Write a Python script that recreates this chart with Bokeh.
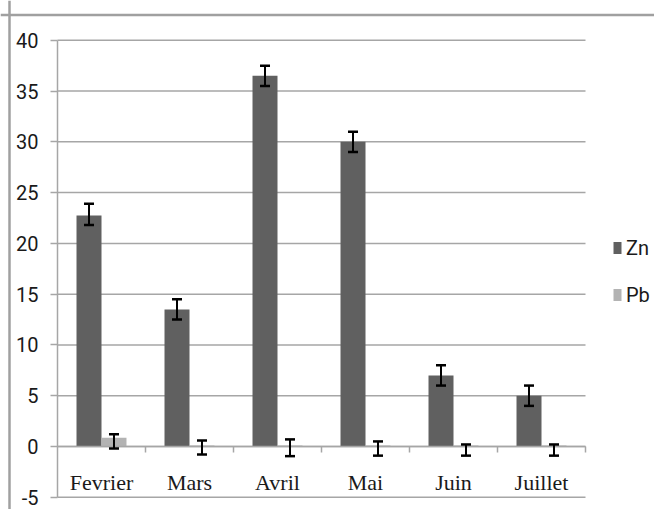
from bokeh.plotting import figure
from bokeh.models import (ColumnDataSource, Range1d, Whisker, TeeHead, Span,
                          Legend, LegendItem, LinearAxis, FixedTicker)
from bokeh.transform import dodge
from bokeh.embed import file_html
from bokeh.resources import INLINE

# ---- data ----
months = ["Fevrier", "Mars", "Avril", "Mai", "Juin", "Juillet"]
zn = [22.75, 13.5, 36.5, 30.0, 7.0, 5.0]
zn_lo = [21.8, 12.5, 35.5, 29.0, 6.0, 4.0]
zn_hi = [23.9, 14.5, 37.5, 31.0, 8.0, 6.0]
pb = [0.85, 0.1, 0.1, 0.1, 0.1, 0.1]
pb_lo = [-0.2, -0.8, -0.95, -0.9, -0.9, -0.9]
pb_hi = [1.2, 0.6, 0.7, 0.5, 0.2, 0.2]
y_ticks = [-5, 0, 5, 10, 15, 20, 25, 30, 35, 40]
y_tick_labels = ["-5", "0", "5", "10", "15", "20", "25", "30", "35", "40"]

# ---- style / geometry ----
ZN_COLOR = "#606060"
PB_COLOR = "#b3b3b3"
GRID = "#a6a6a6"
BORDER = "#a0a0a0"
TXT = "#1a1a1a"
SANS = "Roboto"

W, H = 654, 509
CAT_PX = 88.0            # pixels per category
X0_PX = 101.0            # canvas x of first category centre
Y0_PX = 446.0            # canvas y of value 0
PX_UNIT = 457.0 / 45.0   # pixels per value unit

n = len(months)
idx = list(range(n))
ymin, ymax = min(y_ticks), max(y_ticks)

src = ColumnDataSource(dict(i=idx, m=months, zn=zn, zn_lo=zn_lo, zn_hi=zn_hi,
                            pb=pb, pb_lo=pb_lo, pb_hi=pb_hi))

p = figure(width=W, height=H,
           x_range=Range1d(-X0_PX / CAT_PX, (W - X0_PX) / CAT_PX),
           y_range=Range1d(-(H - Y0_PX) / PX_UNIT, Y0_PX / PX_UNIT),
           x_axis_location=None, y_axis_location=None,
           output_backend="svg", toolbar_location=None,
           min_border=0, min_border_left=0, min_border_right=0,
           min_border_top=0, min_border_bottom=0)
p.outline_line_color = None
p.xgrid.visible = False
p.ygrid.visible = False

# outer chart border (top and left edges)
p.add_layout(Span(location=(9.0 - X0_PX) / CAT_PX, dimension="height",
                  line_color=BORDER, line_width=2.5))
p.add_layout(Span(location=(Y0_PX - 14.5) / PX_UNIT, dimension="width",
                  line_color=BORDER, line_width=2.5))

# horizontal gridlines limited to the category area
gsrc = ColumnDataSource(dict(x0=[-0.5] * len(y_ticks), x1=[n - 0.5] * len(y_ticks),
                             y=y_ticks))
p.segment(x0="x0", x1="x1", y0="y", y1="y", source=gsrc, line_color=GRID, line_width=1.5)

# y axis
yax = LinearAxis(fixed_location=-0.5, bounds=(ymin, ymax), ticker=FixedTicker(ticks=y_ticks),
                 major_label_overrides={t: s for t, s in zip(y_ticks, y_tick_labels)})
yax.axis_line_color = GRID
yax.axis_line_width = 1.5
yax.major_tick_line_color = GRID
yax.major_tick_line_width = 1.5
yax.major_tick_in = 0
yax.major_tick_out = 7
yax.minor_tick_line_color = None
yax.major_label_standoff = 12
yax.major_label_text_font = SANS
yax.major_label_text_font_size = "20px"
yax.major_label_text_color = TXT
p.add_layout(yax, "left")

# x axis (category labels) on the zero line
xax = LinearAxis(fixed_location=0, bounds=(-0.5, n - 0.5), ticker=FixedTicker(ticks=idx),
                 major_label_overrides={i: m for i, m in zip(idx, months)})
xax.axis_line_color = GRID
xax.axis_line_width = 1.5
xax.major_tick_line_color = None
xax.minor_tick_line_color = None
xax.major_label_standoff = 17
xax.major_label_text_font = "Liberation Serif"
xax.major_label_text_font_size = "22px"
xax.major_label_text_color = TXT
p.add_layout(xax, "below")

# category boundary ticks
bax = LinearAxis(fixed_location=0, ticker=FixedTicker(ticks=[i + 0.5 for i in idx]))
bax.axis_line_color = None
bax.major_tick_line_color = GRID
bax.major_tick_line_width = 1.5
bax.major_tick_in = 0
bax.major_tick_out = 6
bax.minor_tick_line_color = None
bax.major_label_text_alpha = 0
bax.major_label_text_font_size = "1px"
p.add_layout(bax, "below")

bw = 0.284
r_zn = p.vbar(x=dodge("i", -bw / 2), top="zn", width=bw, source=src,
              fill_color=ZN_COLOR, line_color=None)
r_pb = p.vbar(x=dodge("i", bw / 2), top="pb", width=bw, source=src,
              fill_color=PB_COLOR, line_color=None)

for base, lo, hi in [(-bw / 2, "zn_lo", "zn_hi"), (bw / 2, "pb_lo", "pb_hi")]:
    w = Whisker(base=dodge("i", base), lower=lo, upper=hi, source=src,
                level="overlay", line_color="black", line_width=2,
                upper_head=TeeHead(size=10, line_width=2.5, line_color="black"),
                lower_head=TeeHead(size=10, line_width=2.5, line_color="black"))
    p.add_layout(w)

legend = Legend(items=[LegendItem(label="Zn", renderers=[r_zn]),
                       LegendItem(label="Pb", renderers=[r_pb])],
                location=(612, H - 306.5), padding=0, margin=0, spacing=23,
                label_height=24, glyph_height=15, glyph_width=10, label_standoff=4,
                label_text_font=SANS, label_text_font_size="20px",
                label_text_color=TXT, border_line_color=None,
                background_fill_alpha=0)
p.add_layout(legend)

open("out.html", "w").write(file_html(p, INLINE))
